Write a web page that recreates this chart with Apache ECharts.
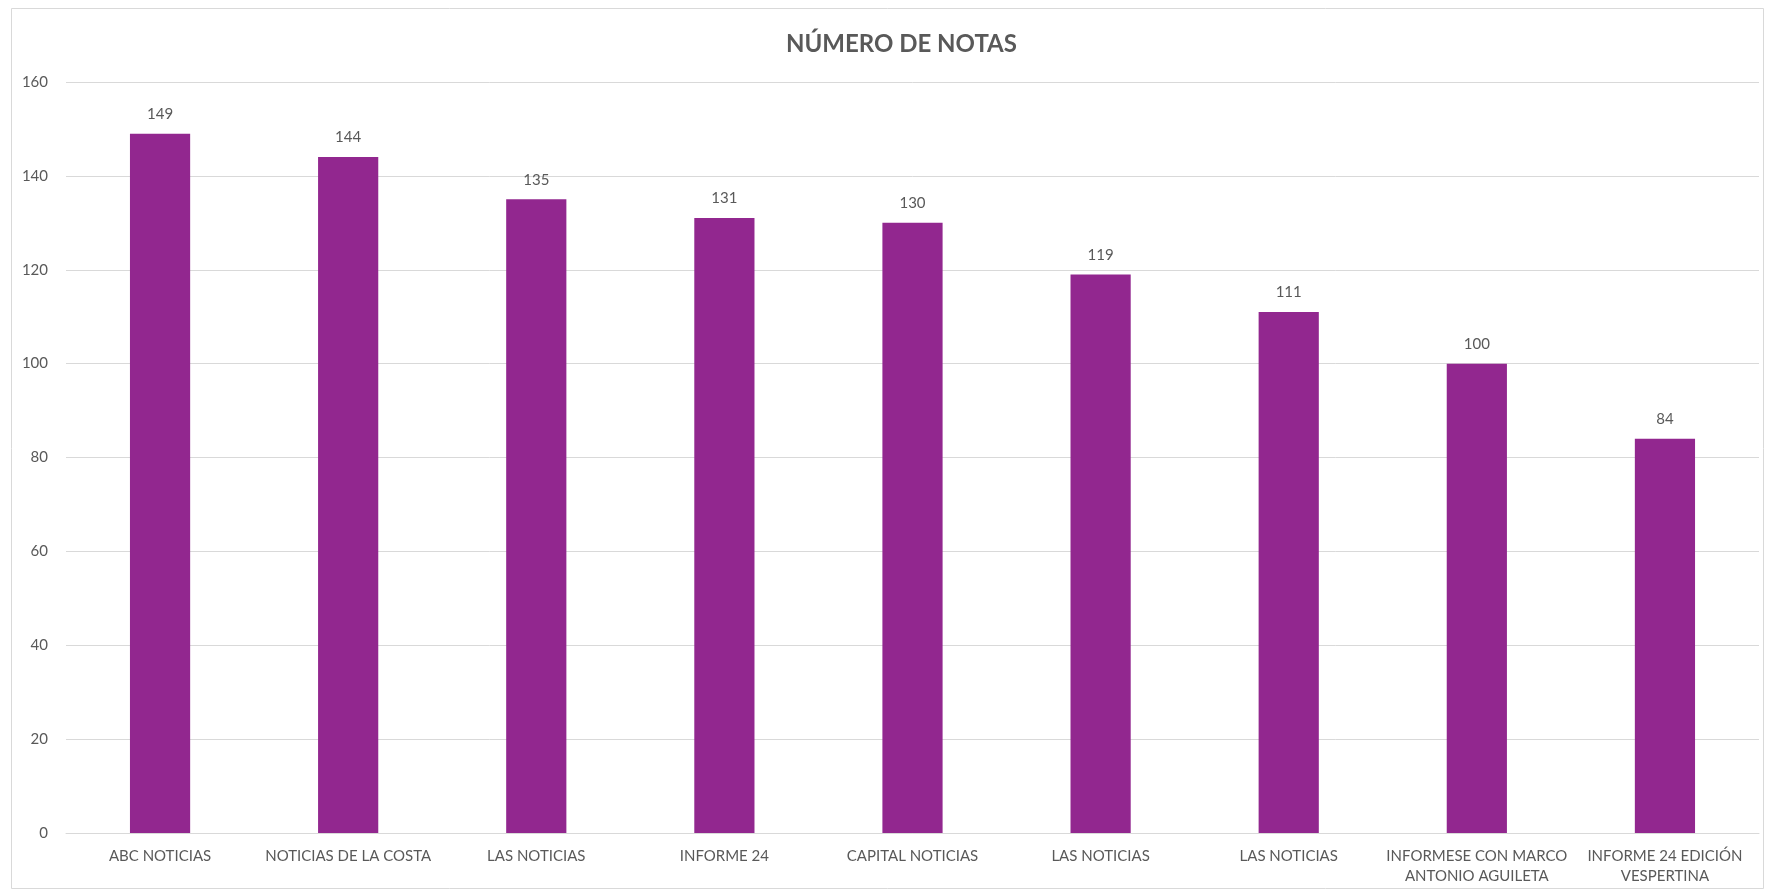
<!DOCTYPE html>
<html>
<head>
<meta charset="utf-8">
<script src="https://cdn.jsdelivr.net/npm/echarts@6/dist/echarts.min.js"></script>
<style>
html,body{margin:0;padding:0;background:#fff;}
#c{width:1768px;height:894px;}
</style>
</head>
<body>
<div id="c"></div>
<script>
const title = 'NÚMERO DE NOTAS';
const categories = [
  'ABC NOTICIAS',
  'NOTICIAS DE LA COSTA',
  'LAS NOTICIAS',
  'INFORME 24',
  'CAPITAL NOTICIAS',
  'LAS NOTICIAS',
  'LAS NOTICIAS',
  'INFORMESE CON MARCO\nANTONIO AGUILETA',
  'INFORME 24 EDICIÓN\nVESPERTINA'
];
const values = [149, 144, 135, 131, 130, 119, 111, 100, 84];
const yTicks = {min: 0, max: 160, interval: 20};

const chart = echarts.init(document.getElementById('c'), null, {renderer: 'canvas'});
chart.setOption({
  animation: false,
  backgroundColor: '#ffffff',
  textStyle: {fontFamily: 'Lato'},
  title: {
    text: title,
    left: 781,
    top: 27,
    textStyle: {fontFamily: 'Lato', fontSize: 24, fontWeight: 'bold', color: '#595959'}
  },
  graphic: [{
    type: 'rect',
    shape: {x: 11.5, y: 8.5, width: 1752, height: 880},
    style: {fill: 'none', stroke: '#d9d9d9', lineWidth: 1},
    silent: true,
    z: -1
  }],
  grid: {left: 66, right: 9, top: 82, bottom: 61, containLabel: false},
  xAxis: {
    type: 'category',
    data: categories,
    axisLine: {show: true, lineStyle: {color: '#d9d9d9', width: 1}},
    axisTick: {show: false},
    axisLabel: {color: '#595959', fontSize: 15, fontFamily: 'Lato', margin: 13, lineHeight: 20, interval: 0}
  },
  yAxis: {
    type: 'value',
    min: yTicks.min,
    max: yTicks.max,
    interval: yTicks.interval,
    axisLine: {show: false},
    axisTick: {show: false},
    splitLine: {lineStyle: {color: '#d9d9d9', width: 1}},
    axisLabel: {color: '#595959', fontSize: 15, fontFamily: 'Lato', margin: 18}
  },
  series: [{
    type: 'bar',
    data: values,
    barWidth: '32%',
    itemStyle: {color: '#92278F'},
    label: {show: true, position: 'top', distance: 12, color: '#595959', fontSize: 15, fontFamily: 'Lato'}
  }]
});
</script>
</body>
</html>
